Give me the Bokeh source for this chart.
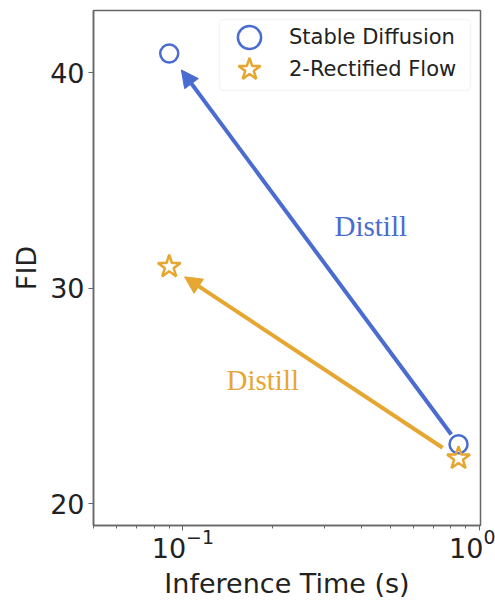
import math
from bokeh.plotting import figure
from bokeh.models import (Range1d, Legend, LegendItem, Arrow, NormalHead, FixedTicker,
                          LogTickFormatter, BoxAnnotation)
from bokeh.core.properties import value
from bokeh.embed import file_html
from bokeh.resources import INLINE

# ---- data ----
methods = ["Stable Diffusion", "2-Rectified Flow"]
sd_time = [0.09, 0.85]
sd_fid = [40.9, 22.75]
rf_time = [0.09, 0.85]
rf_fid = [31.0, 22.1]
label_text = "Distill"
sd_label_pos = (0.43, 32.9)
rf_label_pos = (0.186, 25.75)
y_ticks = [20, 30, 40]
x_major_ticks = [0.1, 1.0]
x_minor_ticks = [0.05, 0.06, 0.07, 0.08, 0.09, 0.2, 0.3, 0.4, 0.5, 0.6, 0.7, 0.8, 0.9]

BLUE = "#4a6cd0"
ORANGE = "#e6a732"
FONT = "DejaVu Sans"

W, H = 495, 601
B_LEFT, B_RIGHT, B_TOP, B_BOTTOM = 93, 15, 10, 75
FRAME_H = H - B_TOP - B_BOTTOM

p = figure(width=W, height=H, x_axis_type="log",
           x_range=Range1d(0.05, 1.008), y_range=Range1d(18.98, 42.9),
           output_backend="svg", toolbar_location=None,
           min_border_left=B_LEFT, min_border_right=B_RIGHT,
           min_border_top=B_TOP, min_border_bottom=B_BOTTOM)

p.xgrid.visible = False
p.ygrid.visible = False
p.outline_line_color = "#666666"
p.outline_line_width = 1.5
p.background_fill_color = "white"
p.border_fill_color = "white"

for ax in (p.xaxis[0], p.yaxis[0]):
    ax.axis_line_color = "#666666"
    ax.axis_line_width = 1.5
    ax.major_tick_line_color = "#666666"
    ax.major_tick_out = 5
    ax.major_tick_in = 0
    ax.major_label_text_font = FONT
    ax.major_label_text_font_size = "27px"
    ax.major_label_text_color = "#222222"
    ax.axis_label_text_font = FONT
    ax.axis_label_text_font_size = "27px"
    ax.axis_label_text_font_style = "normal"
    ax.axis_label_text_color = "#222222"

p.xaxis[0].ticker = FixedTicker(ticks=x_major_ticks, minor_ticks=x_minor_ticks)
p.xaxis[0].formatter = LogTickFormatter()
p.xaxis[0].minor_tick_line_color = "#666666"
p.xaxis[0].minor_tick_out = 3
p.xaxis[0].minor_tick_in = 0
p.xaxis[0].axis_label = "Inference Time (s)"
p.xaxis[0].major_label_standoff = -2
p.xaxis[0].axis_label_standoff = 7

p.yaxis[0].ticker = FixedTicker(ticks=y_ticks)
p.yaxis[0].minor_tick_line_color = None
p.yaxis[0].axis_label = "FID"
p.yaxis[0].major_label_standoff = 4
p.yaxis[0].axis_label_standoff = 5


def arrow_between(xs, ys, frac_start, frac_end, color):
    # from the second point (fast) towards the first (slow), shrunk at both ends
    lx0, lx1 = math.log10(xs[1]), math.log10(xs[0])
    y0, y1 = ys[1], ys[0]
    sx = lx0 + (lx1 - lx0) * frac_start
    sy = y0 + (y1 - y0) * frac_start
    ex = lx0 + (lx1 - lx0) * (1 - frac_end)
    ey = y0 + (y1 - y0) * (1 - frac_end)
    a = Arrow(x_start=10 ** sx, y_start=sy, x_end=10 ** ex, y_end=ey,
              line_color=color, line_width=4,
              end=NormalHead(size=17, fill_color=color, line_color=color, line_width=1))
    p.add_layout(a)


arrow_between(sd_time, sd_fid, 0.025, 0.042, BLUE)
arrow_between(rf_time, rf_fid, 0.055, 0.053, ORANGE)

r_sd = p.scatter(sd_time, sd_fid, marker="circle", size=18, fill_color="white",
                 fill_alpha=0.0, line_color=BLUE, line_width=2.5)
r_rf = p.scatter(rf_time, rf_fid, marker="star", size=24, fill_color="white",
                 fill_alpha=0.0, line_color=ORANGE, line_width=2.5)

p.text(x=[sd_label_pos[0]], y=[sd_label_pos[1]], text=[label_text],
       text_font=value("Liberation Serif"), text_font_size="29px", text_color=BLUE,
       text_align="center", text_baseline="middle")
p.text(x=[rf_label_pos[0]], y=[rf_label_pos[1]], text=[label_text],
       text_font=value("Liberation Serif"), text_font_size="29px", text_color=ORANGE,
       text_align="center", text_baseline="middle")

# legend frame (screen units relative to the frame's bottom-left corner)
box = BoxAnnotation(left=219 - B_LEFT, right=470 - B_LEFT,
                    top=FRAME_H - (20 - B_TOP), bottom=FRAME_H - (91 - B_TOP),
                    left_units="screen", right_units="screen",
                    top_units="screen", bottom_units="screen",
                    fill_color="white", fill_alpha=0.85,
                    line_color="#dddddd", line_width=1.5, border_radius=4)
p.add_layout(box)

GH = 58
legend_common = dict(orientation="vertical", glyph_width=60, glyph_height=GH,
                     label_height=GH, label_standoff=10, spacing=0, padding=0,
                     label_text_font=FONT, label_text_font_size="21px",
                     label_text_color="#222222", border_line_color=None,
                     background_fill_alpha=0.0)
row_centers = [38, 70]
leg1 = Legend(items=[LegendItem(label=methods[0], renderers=[r_sd])],
              location=(219 - B_LEFT, FRAME_H - (row_centers[0] + GH / 2 - B_TOP)),
              **legend_common)
leg2 = Legend(items=[LegendItem(label=methods[1], renderers=[r_rf])],
              location=(219 - B_LEFT, FRAME_H - (row_centers[1] + GH / 2 - B_TOP)),
              **legend_common)
p.add_layout(leg1)
p.add_layout(leg2)

open("out.html", "w").write(file_html(p, INLINE))
